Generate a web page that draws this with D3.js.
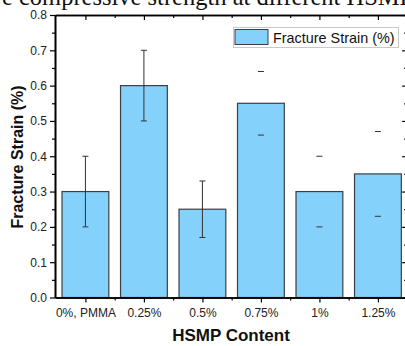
<!DOCTYPE html>
<html>
<head>
<meta charset="utf-8">
<script src="https://cdn.jsdelivr.net/npm/d3@7"></script>
<style>
	body { margin: 0; background: #fff; }
	svg { display: block; }
	.tick text { font-family: Arial, "Liberation Sans", sans-serif; fill: #222; }
</style>
</head>
<body>
<svg id="chart" width="405" height="346"></svg>
<script>

// values
var categories	= ["0%, PMMA", "0.25%", "0.5%", "0.75%", "1%", "1.25%"];
var strain		= [0.30, 0.60, 0.25, 0.55, 0.30, 0.35];
var strainErr	= [0.10, 0.10, 0.08, 0.09, 0.10, 0.12];
var yTicks		= [0, 0.1, 0.2, 0.3, 0.4, 0.5, 0.6, 0.7, 0.8];
var yMinor		= [0.05, 0.15, 0.25, 0.35, 0.45, 0.55, 0.65, 0.75];
var xMinor		= [1.5, 2.5, 3.5, 4.5, 5.5];

var LEFT	= 55;
var TOP		= 15;
var BOTTOM	= 297.5;
var UNIT	= 58.5;
var BAR_W	= 0.8;

var svg = d3.select("#chart");

var x = d3.scaleLinear()
	.domain([0.48, 6.5])
	.range([LEFT, LEFT + 6.02 * UNIT]);

var y = d3.scaleLinear()
	.domain([0, 0.8])
	.range([BOTTOM, TOP]);

// clipped caption above the figure
svg.append("text")
	.attr("x", 2)
	.attr("y", 5)
	.attr("font-family", "'Liberation Serif', 'Times New Roman', serif")
	.attr("font-size", 24.5)
	.attr("fill", "#111")
	.text("e compressive strength at different HSMP content");

// bars
svg.append("g").selectAll("rect")
	.data(strain)
	.enter().append("rect")
		.attr("x", function(d, i) { return x(i + 1 - BAR_W / 2); })
		.attr("y", function(d) { return y(d); })
		.attr("width", x(BAR_W) - x(0))
		.attr("height", function(d) { return y(0) - y(d); })
		.attr("fill", "#84d1fb")
		.attr("stroke", "#3a3f44")
		.attr("stroke-width", 1.2);

// error bars (only the first three show the stem)
var err = svg.append("g")
	.attr("stroke", "#333")
	.attr("stroke-width", 1);

strain.forEach(function(d, i) {

	var cx = x(i + 1);
	var hi = y(d + strainErr[i]);
	var lo = y(d - strainErr[i]);

	if ( i < 3 ) {
		err.append("line")
			.attr("x1", cx).attr("x2", cx)
			.attr("y1", hi).attr("y2", lo);
	}

	[hi, lo].forEach(function(py) {
		err.append("line")
			.attr("x1", cx - 3).attr("x2", cx + 3)
			.attr("y1", py).attr("y2", py);
	});
});

function styleAxis(g) {
	g.select(".domain").attr("stroke", "#000").attr("stroke-width", 1.6);
	g.selectAll(".tick line").attr("stroke", "#000").attr("stroke-width", 1.2);
	g.selectAll(".tick text").attr("font-size", 12);
}

// left axis
svg.append("g")
	.attr("transform", "translate(" + LEFT + ",0)")
	.call(d3.axisLeft(y).tickValues(yTicks).tickSize(5).tickSizeOuter(0).tickPadding(3).tickFormat(d3.format(".1f")))
	.call(styleAxis);

svg.append("g")
	.attr("transform", "translate(" + LEFT + ",0)")
	.call(d3.axisLeft(y).tickValues(yMinor).tickSize(3).tickSizeOuter(0).tickFormat(""))
	.call(styleAxis);

// right axis, ticks inward
svg.append("g")
	.attr("transform", "translate(" + x(6.5) + ",0)")
	.call(d3.axisLeft(y).tickValues(yTicks).tickSize(5).tickSizeOuter(0).tickFormat(""))
	.call(styleAxis);

svg.append("g")
	.attr("transform", "translate(" + x(6.5) + ",0)")
	.call(d3.axisLeft(y).tickValues(yMinor).tickSize(3).tickSizeOuter(0).tickFormat(""))
	.call(styleAxis);

// bottom axis
svg.append("g")
	.attr("transform", "translate(0," + BOTTOM + ")")
	.call(d3.axisBottom(x).tickValues([1, 2, 3, 4, 5, 6]).tickSize(5).tickSizeOuter(0).tickPadding(6)
		.tickFormat(function(d) { return categories[d - 1]; }))
	.call(styleAxis);

svg.append("g")
	.attr("transform", "translate(0," + BOTTOM + ")")
	.call(d3.axisBottom(x).tickValues(xMinor).tickSize(3).tickSizeOuter(0).tickFormat(""))
	.call(styleAxis);

// top axis, ticks inward
svg.append("g")
	.attr("transform", "translate(0," + TOP + ")")
	.call(d3.axisBottom(x).tickValues([1, 2, 3, 4, 5, 6]).tickSize(5).tickSizeOuter(0).tickFormat(""))
	.call(styleAxis);

svg.append("g")
	.attr("transform", "translate(0," + TOP + ")")
	.call(d3.axisBottom(x).tickValues(xMinor).tickSize(3).tickSizeOuter(0).tickFormat(""))
	.call(styleAxis);

// axis titles
svg.append("text")
	.attr("x", 231)
	.attr("y", 341)
	.attr("text-anchor", "middle")
	.attr("font-family", "Arial, 'Liberation Sans', sans-serif")
	.attr("font-weight", "bold")
	.attr("font-size", 17)
	.attr("fill", "#111")
	.text("HSMP Content");

svg.append("text")
	.attr("transform", "translate(23,157) rotate(-90)")
	.attr("text-anchor", "middle")
	.attr("font-family", "Arial, 'Liberation Sans', sans-serif")
	.attr("font-weight", "bold")
	.attr("font-size", 16)
	.attr("fill", "#111")
	.text("Fracture Strain (%)");

// legend
var legend = svg.append("g");

legend.append("rect")
	.attr("x", 233.5).attr("y", 27.5)
	.attr("width", 165).attr("height", 20)
	.attr("fill", "#fff")
	.attr("stroke", "#c8c8c8")
	.attr("stroke-width", 1);

legend.append("rect")
	.attr("x", 235).attr("y", 29.5)
	.attr("width", 33).attr("height", 15)
	.attr("fill", "#84d1fb")
	.attr("stroke", "#3a3f44")
	.attr("stroke-width", 1);

legend.append("text")
	.attr("x", 273)
	.attr("y", 42.5)
	.attr("font-family", "Arial, 'Liberation Sans', sans-serif")
	.attr("font-size", 14.4)
	.attr("fill", "#111")
	.text("Fracture Strain (%)");

</script>
</body>
</html>
